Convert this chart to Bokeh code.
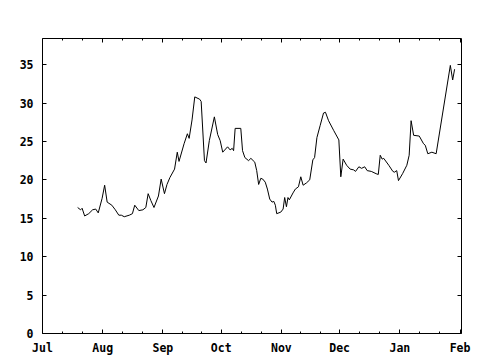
import pandas as pd
from bokeh.plotting import figure
from bokeh.models import FixedTicker, LinearAxis, DatetimeAxis, CustomJSTickFormatter, Range1d
from bokeh.embed import file_html
from bokeh.resources import INLINE

start_date = "2002-07-01"
# days since start_date
day_offset = [18.1, 19.6, 20.4, 21.7, 23.8, 25.8, 27.4, 28.7, 30.7, 32.0,
              33.3, 35.7, 37.5, 39.3, 40.6, 42.1, 44.7, 46.3, 47.5, 49.6,
              51.7, 53.2, 54.4, 55.8, 57.4, 59.7, 61.1, 62.8, 64.1, 65.6,
              68.0, 69.4, 70.3, 72.9, 74.6, 75.5, 77.0, 78.4, 80.9, 81.7,
              83.4, 84.2, 85.9, 88.5, 90.2, 91.5, 92.8, 95.3, 96.6, 97.7,
              98.4, 99.2, 102.1, 103.0, 104.2, 106.1, 107.3, 109.3, 110.3, 111.3,
              112.4, 113.4, 114.7, 115.8, 117.0, 118.2, 119.1, 119.9, 120.6, 122.7,
              123.9, 124.7, 125.6, 126.4, 127.1, 129.0, 130.2, 131.8, 133.0, 134.2,
              135.9, 137.6, 139.2, 140.1, 141.3, 143.0, 144.7, 145.7, 147.3, 150.0,
              152.6, 153.6, 154.8, 156.6, 158.4, 160.2, 161.2, 162.9, 164.3, 165.9,
              167.2, 169.3, 171.8, 172.9, 173.9, 174.9, 175.7, 178.3, 180.4, 181.2,
              182.4, 183.3, 185.4, 187.6, 188.8, 189.8, 191.1, 194.0, 196.2, 197.1,
              198.4, 200.5, 202.7, 210.0, 211.2, 212.2]
level = [16.4, 16.1, 16.3, 15.3, 15.6, 16.1, 16.2, 15.7, 17.6, 19.3,
         17.1, 16.7, 16.1, 15.4, 15.4, 15.2, 15.4, 15.6, 16.7, 16.0,
         16.1, 16.4, 18.2, 17.3, 16.4, 17.9, 20.1, 18.2, 19.4, 20.3,
         21.4, 23.6, 22.4, 24.7, 26.0, 25.4, 27.8, 30.8, 30.5, 30.2,
         22.5, 22.2, 25.1, 28.2, 25.9, 25.1, 23.6, 24.3, 23.9, 24.1,
         23.8, 26.7, 26.7, 23.8, 22.9, 22.5, 22.8, 22.3, 21.2, 19.4,
         20.2, 20.1, 19.7, 18.8, 17.5, 17.1, 17.2, 16.7, 15.6, 15.8,
         16.2, 17.7, 16.5, 17.7, 17.4, 18.3, 18.8, 19.1, 20.4, 19.3,
         19.6, 20.0, 22.6, 22.9, 25.5, 27.1, 28.7, 28.8, 27.7, 26.4,
         25.2, 20.4, 22.7, 21.9, 21.4, 21.3, 21.1, 21.7, 21.5, 21.7,
         21.2, 21.1, 20.8, 20.7, 23.2, 22.7, 22.8, 21.9, 21.1, 21.0,
         21.2, 19.9, 20.8, 21.9, 23.2, 27.7, 25.8, 25.7, 24.7, 24.5,
         23.4, 23.6, 23.4, 34.9, 33.0, 34.4]
month_labels = ["Jul", "Aug", "Sep", "Oct", "Nov", "Dec", "Jan", "Feb"]
y_ticks = [0, 5, 10, 15, 20, 25, 30, 35]
y_max = 38.4

FONT = "DejaVu Sans Mono"
FSIZE = "11.5px"

t0 = pd.Timestamp(start_date)
xs = t0 + pd.to_timedelta(day_offset, unit="D")
months = pd.date_range(t0, periods=len(month_labels), freq="MS")
ms = [int(m.value // 10**6) for m in months]
minor = []
for a, b in zip(ms[:-1], ms[1:]):
    minor += [a + (b - a) / 3, a + 2 * (b - a) / 3]
DAY = 86400000

p = figure(width=480, height=360, x_axis_type="datetime",
           output_backend="svg", toolbar_location=None,
           x_range=Range1d(ms[0], ms[-1] + 0.75 * DAY),
           y_range=Range1d(0, y_max),
           min_border_left=42, min_border_right=19,
           min_border_top=38, min_border_bottom=27)
p.grid.visible = False
p.background_fill_color = "white"
p.border_fill_color = "white"
p.outline_line_color = "black"
p.outline_line_width = 1
p.outline_line_alpha = 1.0

p.line(xs, level, line_color="black", line_width=1)

xt = FixedTicker(ticks=ms, minor_ticks=minor)
yt = FixedTicker(ticks=y_ticks, minor_ticks=[])

xa = p.xaxis[0]
xa.ticker = xt
xa.major_label_overrides = {m: lab for m, lab in zip(ms, month_labels)}
ya = p.yaxis[0]
ya.ticker = yt

top = DatetimeAxis(ticker=xt, formatter=CustomJSTickFormatter(code="return ''"))
right = LinearAxis(ticker=yt, formatter=CustomJSTickFormatter(code="return ''"))
p.add_layout(top, "above")
p.add_layout(right, "right")

for ax in (xa, ya, top, right):
    ax.axis_line_color = None
    ax.major_tick_in = 4
    ax.major_tick_out = 0
    ax.minor_tick_in = 2
    ax.minor_tick_out = 0
    ax.major_tick_line_color = "black"
    ax.minor_tick_line_color = "black"
    ax.major_label_text_font = FONT
    ax.major_label_text_font_style = "bold"
    ax.major_label_text_font_size = FSIZE
    ax.major_label_text_color = "black"
for ax in (top, right):
    ax.major_label_standoff = 0
    ax.major_label_text_font_size = "0px"
xa.major_label_standoff = 7
ya.major_label_standoff = 9

open("out.html", "w").write(file_html(p, INLINE))
